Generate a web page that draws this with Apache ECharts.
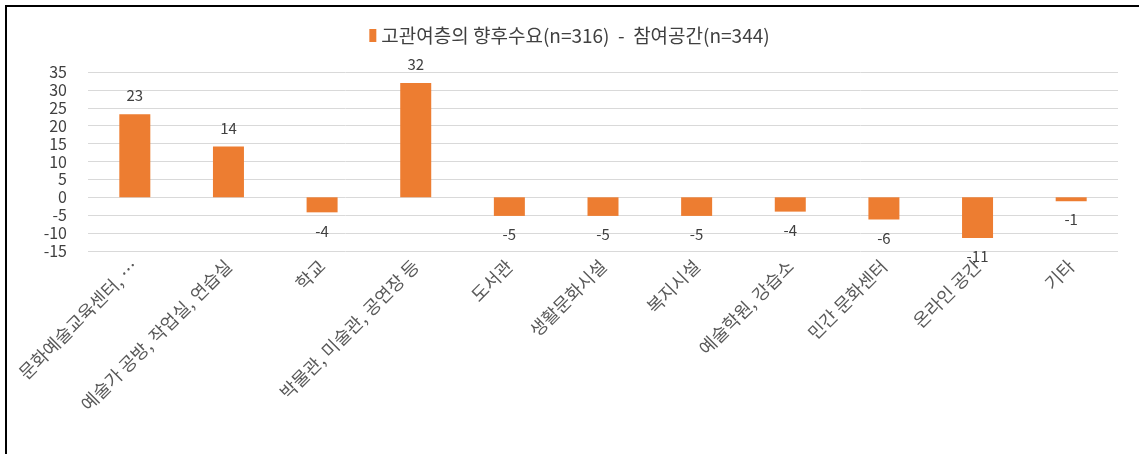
<!DOCTYPE html>
<html>
<head>
<meta charset="utf-8">
<script src="https://cdn.jsdelivr.net/npm/echarts@6/dist/echarts.min.js"></script>
<style>
html,body{margin:0;padding:0;background:#fff;}
#chart{position:absolute;left:0;top:0;width:1139px;height:454px;}
#frame{position:absolute;left:5px;top:5px;width:1134px;height:449px;border-top:2px solid #000;border-left:2px solid #000;box-sizing:border-box;pointer-events:none;}
</style>
</head>
<body>
<div id="chart"></div>
<div id="frame"></div>
<script>
const categories = ['문화예술교육센터, …', '예술가 공방, 작업실, 연습실', '학교', '박물관, 미술관, 공연장 등', '도서관', '생활문화시설', '복지시설', '예술학원, 강습소', '민간 문화센터', '온라인 공간', '기타'];
const values = [23.2, 14.2, -4.2, 31.9, -5.2, -5.2, -5.2, -4.0, -6.2, -11.4, -1.1];
const seriesName = '고관여층의 향후수요(n=316)  -  참여공간(n=344)';
const yTicks = {min: -15, max: 35, interval: 5};

const chart = echarts.init(document.getElementById('chart'), null, {renderer: 'canvas'});
const font = '"Noto Sans CJK KR", "Noto Sans", sans-serif';
chart.setOption({
  animation: false,
  textStyle: {fontFamily: font},
  legend: {
    top: 21, left: 'center',
    icon: 'rect', itemWidth: 7, itemHeight: 13, itemGap: 4,
    textStyle: {fontSize: 19, color: '#404040', fontFamily: font},
    data: [seriesName]
  },
  grid: {left: 88, right: 21, top: 72, bottom: 203, containLabel: false},
  xAxis: {
    type: 'category', data: categories,
    axisLine: {show: false}, axisTick: {show: false},
    axisLabel: {rotate: 45, interval: 0, fontSize: 18, color: '#595959', margin: 12, fontFamily: font}
  },
  yAxis: {
    type: 'value', min: yTicks.min, max: yTicks.max, interval: yTicks.interval,
    axisLine: {show: false}, axisTick: {show: false},
    axisLabel: {fontSize: 16, color: '#404040', margin: 21, fontFamily: font, lineHeight: 16},
    splitLine: {lineStyle: {color: '#d9d9d9', width: 1}}
  },
  series: [{
    name: seriesName, type: 'bar', data: values, barWidth: 31,
    itemStyle: {color: '#ed7d31'},
    label: {show: true, position: 'outside', fontSize: 15, color: '#404040', distance: 11,
      formatter: p => String(Math.round(p.value)), fontFamily: font}
  }]
});
</script>
</body>
</html>
